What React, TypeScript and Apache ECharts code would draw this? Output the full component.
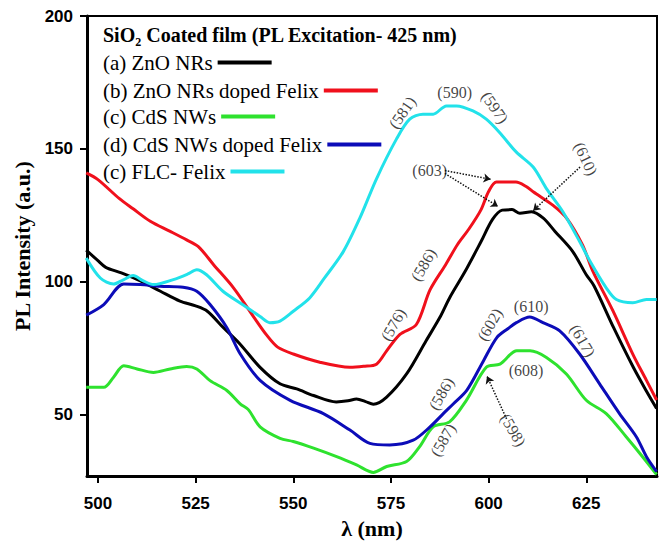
import React, { useEffect, useRef } from 'react';
import * as echarts from 'echarts';

// ---------- data ----------
const seriesNames = [
  '(a) ZnO NRs',
  '(b) ZnO NRs doped Felix',
  '(c) CdS NWs',
  '(d) CdS NWs doped Felix',
  '(c) FLC- Felix',
];
const seriesColors = ['#000000', '#f0101c', '#2ee22e', '#0c0cb8', '#22e2ea'];

const znoNRs = [
  [497, 112], [500, 108], [502, 105.5], [506, 103.4], [511, 100.3], [516, 96.5], [521, 92.8],
  [525, 91], [528, 89], [532, 83], [536.4, 76.6], [541.5, 67.9], [546.6, 61.7], [550.9, 59.8],
  [555.2, 57.3], [561, 54.9], [564, 55.3], [566.2, 56], [568.5, 55], [570.5, 54], [573.9, 56.7],
  [579, 65.4], [584, 77.9], [587.5, 86.6], [590, 94], [594, 104], [598, 115], [601, 123.5],
  [603.5, 127], [606, 127.2], [608, 125.8], [611, 126.4], [614, 124], [617, 119], [621.5, 111.5],
  [625, 102.7], [627, 98.5], [632, 82.8], [637, 68], [640.3, 59.2], [643, 52.4],
];
const znoFelix = [
  [497, 141], [500, 138.5], [505.5, 131.3], [509, 127.5], [513.4, 122.8], [518.5, 119],
  [522.7, 115.8], [525.7, 113.3], [529.6, 106.5], [534.7, 97.8], [539.8, 87], [543.2, 80],
  [546, 75.5], [550, 72.9], [556.8, 69.8], [564.5, 67.9], [568, 68.3], [571.3, 69.1], [573.9, 74.1],
  [577.3, 80.3], [581.5, 84], [585, 97], [589, 106.5], [592, 114], [595, 120], [598, 127],
  [600, 134], [602, 137.6], [607, 137.6], [609.5, 136], [611.5, 133.8], [616.5, 128.8],
  [620, 123.9], [624, 114], [626.7, 104], [631.8, 89.2], [636.9, 72.9], [640.4, 63], [643, 55.6],
];
const cdsNWs = [
  [497, 60.4], [501.5, 60.4], [504, 64.2], [506.6, 68.5], [510, 67.3], [514.2, 66], [518.5, 67.3],
  [522.7, 68.2], [525.3, 67.3], [528.7, 62.9], [533, 59.2], [536.4, 54.2], [538.5, 52],
  [541.5, 45.5], [546.6, 41.2], [550, 40], [555.2, 37.5], [561.1, 34.3], [566.2, 31.2],
  [570.5, 28.4], [573.9, 30.6], [579, 32.5], [582.3, 38], [585.8, 45.5], [590, 47.4],
  [594.3, 55.5], [599.4, 67.9], [602.9, 69.1], [607.2, 74.1], [610.6, 74.1], [614.8, 71.6],
  [619.9, 65.4], [625, 55.5], [630.1, 50.5], [635.2, 41.8], [639.4, 34.3], [643, 27.6],
];
const cdsFelix = [
  [497, 87.5], [501.5, 91.5], [506.6, 99.2], [510.8, 99], [515.9, 98.4], [521.8, 98], [525.3, 96.5],
  [528.7, 91.5], [533, 82.8], [536.4, 73], [541.5, 63], [549.2, 55.5], [557.7, 50.5],
  [564.5, 44.3], [569.6, 39.3], [574.7, 38.7], [580.7, 40.5], [585, 45.5], [588.4, 50.5],
  [591, 54.2], [594.4, 59.2], [598.7, 70.4], [602.1, 79.1], [605, 82.5], [607.1, 84.7],
  [610.5, 86.8], [613.9, 84.7], [618.2, 81.6], [623.3, 72.9], [628.4, 61.7], [633.5, 50.5],
  [637.8, 41.8], [640.4, 34.3], [643, 28.7],
];
const flcFelix = [
  [497, 109], [500.6, 101.5], [504, 99.2], [506.5, 100.8], [509, 102.4], [511.5, 100.5],
  [514.2, 99], [519.3, 100.9], [523, 103], [525.3, 104.6], [527.8, 102.7], [532, 96.5],
  [537, 91.5], [541.5, 87], [544, 84.7], [546.6, 85.3], [550, 89], [554.2, 94], [558, 101.5],
  [562.8, 111.4], [567, 123.9], [571.3, 138.8], [576.4, 153.7], [579.8, 161.2], [583.2, 163.1],
  [585.8, 163.1], [589.2, 166.2], [591.8, 166.2], [596, 164.3], [599.4, 161.2], [602.8, 156.2],
  [607.1, 148.8], [611.4, 143.2], [614.8, 135.1], [619, 126.4], [623.3, 115.2], [626, 107.7],
  [630.1, 97.8], [632.7, 93.4], [636.9, 92.2], [640.4, 93.4], [643, 93.4],
];
const seriesData = [znoNRs, znoFelix, cdsNWs, cdsFelix, flcFelix];

const xTicks = [500, 525, 550, 575, 600, 625];
const yTicks = [50, 100, 150, 200];

// peak annotations
const noteText = ['(581)', '(590)', '(597)', '(603)', '(610)', '(586)', '(576)', '(586)', '(587)', '(598)', '(602)', '(610)', '(617)', '(608)'];
const noteX = [577.9, 591.3, 601.6, 584.9, 624.9, 583.3, 575.6, 587.9, 588.3, 606.3, 600.3, 610.9, 624.1, 609.6];
const noteY = [163.7, 171.2, 165.6, 141.9, 146.3, 106.5, 84, 58, 40.6, 44.3, 84, 90.9, 77.9, 66.7];
const noteRotate = [55, 0, -55, 0, -65, 60, 60, 60, 60, -60, 60, 0, -60, 0];

// dotted arrows: [fromX, fromY, toX, toY]
const arrows = [
  [588.8, 141.9, 600.5, 138.6],
  [588.8, 140.8, 602.4, 128.4],
  [623.4, 143.2, 611.4, 126.8],
  [604.6, 48.5, 599.6, 64.5],
];

const SERIF = '"Liberation Serif", "Times New Roman", serif';
const SANS = '"Liberation Sans", Arial, sans-serif';
const legendTops = [52, 80, 106, 134, 161];

export default function App() {
  const ref = useRef<HTMLDivElement>(null);
  useEffect(() => {
    if (!ref.current) return;
    const chart = echarts.init(ref.current, undefined, { renderer: 'svg' });
    const lineSeries = seriesNames.map((name, i) => ({
      name,
      type: 'line',
      data: seriesData[i],
      showSymbol: false,
      symbol: 'none',
      smooth: 0.3,
      lineStyle: { width: 3, color: seriesColors[i] },
      itemStyle: { color: seriesColors[i] },
      z: 3,
    }));
    const notes = noteText.map((t, i) => ({
      name: t,
      value: [noteX[i], noteY[i]],
      label: { rotate: noteRotate[i] },
    }));
    const legends = seriesNames.map((name, i) => ({
      orient: 'vertical',
      left: 103,
      top: legendTops[i],
      padding: 0,
      align: 'right',
      icon: 'rect',
      itemWidth: 54,
      itemHeight: 4,
      selectedMode: false,
      data: [name],
      textStyle: { fontFamily: SERIF, fontSize: 21, color: '#000', lineHeight: 21 },
    }));
    chart.setOption({
      animation: false,
      backgroundColor: '#ffffff',
      title: {
        left: 103,
        top: 21,
        padding: 0,
        text: '{a|SiO}{s|2}{a| Coated film (PL Excitation- 425 nm)}',
        textStyle: {
          rich: {
            a: { fontFamily: SERIF, fontWeight: 'bold', fontSize: 20, color: '#000', lineHeight: 27, verticalAlign: 'middle' },
            s: { fontFamily: SERIF, fontWeight: 'bold', fontSize: 12, color: '#000', lineHeight: 12, verticalAlign: 'bottom' },
          },
        },
      },
      legend: legends,
      grid: {
        left: 87,
        right: 10,
        top: 16,
        bottom: 64,
        show: true,
        borderColor: '#000',
        borderWidth: 2,
        backgroundColor: 'transparent',
      },
      xAxis: {
        type: 'value',
        min: 497.2,
        max: 643.1,
        name: 'λ (nm)',
        nameLocation: 'middle',
        nameGap: 36,
        nameTextStyle: { fontFamily: SERIF, fontWeight: 'bold', fontSize: 22, color: '#000' },
        axisLine: { show: true, lineStyle: { color: '#000', width: 3 } },
        axisTick: { show: true, length: 7, lineStyle: { color: '#000', width: 2 }, customValues: xTicks },
        axisLabel: { customValues: xTicks, fontFamily: SANS, fontWeight: 'bold', fontSize: 17, color: '#000', margin: 19 },
        splitLine: { show: false },
      },
      yAxis: {
        type: 'value',
        min: 27,
        max: 200,
        name: 'PL Intensity (a.u.)',
        nameLocation: 'middle',
        nameGap: 41,
        nameTextStyle: { fontFamily: SERIF, fontWeight: 'bold', fontSize: 22, color: '#000' },
        axisLine: { show: true, lineStyle: { color: '#000', width: 3 } },
        axisTick: { show: true, length: 7, lineStyle: { color: '#000', width: 2 }, customValues: yTicks },
        axisLabel: { customValues: yTicks, fontFamily: SANS, fontWeight: 'bold', fontSize: 17, color: '#000', margin: 14 },
        splitLine: { show: false },
      },
      series: [
        ...lineSeries,
        {
          name: 'notes',
          type: 'scatter',
          symbolSize: 0,
          data: notes,
          silent: true,
          z: 5,
          label: {
            show: true,
            position: 'inside',
            formatter: '{b}',
            fontFamily: SERIF,
            fontSize: 16,
            color: '#111',
          },
          markLine: {
            silent: true,
            symbol: ['none', 'arrow'],
            symbolSize: 7,
            label: { show: false },
            lineStyle: { type: 'dotted', color: '#111', width: 1.5 },
            data: arrows.map((a) => [{ coord: [a[0], a[1]] }, { coord: [a[2], a[3]] }]),
          },
        },
      ],
    });
    return () => chart.dispose();
  }, []);
  return <div ref={ref} style={{ position: 'fixed', left: 0, top: 0, width: 667, height: 544 }} />;
}
